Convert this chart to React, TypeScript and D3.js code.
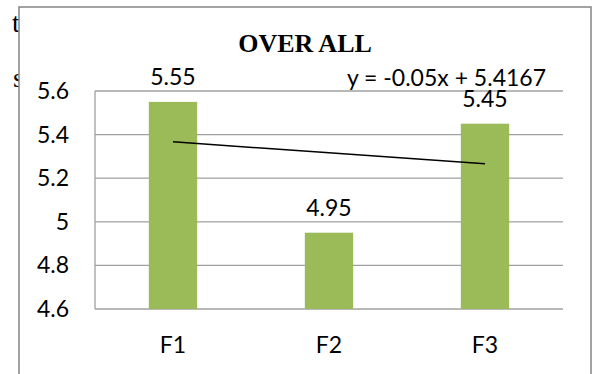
import React from "react";
import * as d3 from "d3";

const categories = ["F1", "F2", "F3"];
const values = [5.55, 4.95, 5.45];
const yTicks = [4.6, 4.8, 5, 5.2, 5.4, 5.6];
const trendSlope = -0.05;
const trendIntercept = 5.4167;
const titleText = "OVER ALL";
const equationText = "y = -0.05x + 5.4167";

const W = 593;
const H = 374;
const plot = { left: 95, right: 563, top: 91, bottom: 309 };
const font = "Lato, 'Open Sans', sans-serif";
const barColor = "#9BBB59";
const gridColor = "#A0A0A0";

export default function App() {
  const x = d3
    .scaleBand<string>()
    .domain(categories)
    .range([plot.left, plot.right])
    .paddingInner(0.69)
    .paddingOuter(0.345);
  const y = d3.scaleLinear().domain([4.6, 5.6]).range([plot.bottom, plot.top]);
  const cx = (c: string) => (x(c) as number) + x.bandwidth() / 2;

  const trendPts: [number, number][] = categories.map((c, i) => [
    cx(c),
    y(trendSlope * (i + 1) + trendIntercept),
  ]);
  const line = d3.line();

  return (
    <svg
      width={W}
      height={H}
      style={{ position: "absolute", left: 0, top: 0, background: "#fff" }}
    >
      {/* underlying document text, mostly hidden by the chart frame */}
      <text x={12} y={32} fontFamily="'Liberation Serif', serif" fontSize={28} fill="#000">
        t
      </text>
      <text x={13} y={87} fontFamily="'Liberation Serif', serif" fontSize={28} fill="#000">
        s
      </text>
      <rect x={19} y={7} width={572} height={400} fill="#fff" stroke="#8C8C8C" strokeWidth={1.6} />

      <text
        x={305}
        y={51.5}
        textAnchor="middle"
        fontFamily="'Liberation Serif', 'Times New Roman', serif"
        fontWeight="bold"
        fontSize={26}
        fill="#000"
      >
        {titleText}
      </text>

      {yTicks.map((t) => (
        <g key={t}>
          <line x1={plot.left} x2={plot.right} y1={y(t)} y2={y(t)} stroke={gridColor} strokeWidth={1.3} />
          <text
            x={69}
            y={y(t)}
            dy="0.35em"
            textAnchor="end"
            fontFamily={font}
            fontSize={23}
            fill="#000"
          >
            {String(t)}
          </text>
        </g>
      ))}
      <line x1={plot.left} x2={plot.left} y1={plot.top} y2={plot.bottom} stroke={gridColor} strokeWidth={1.3} />

      {categories.map((c, i) => (
        <g key={c}>
          <rect
            x={x(c)}
            y={y(values[i])}
            width={x.bandwidth()}
            height={plot.bottom - y(values[i])}
            fill={barColor}
          />
          <text
            x={cx(c)}
            y={y(values[i]) - 17}
            textAnchor="middle"
            fontFamily={font}
            fontSize={23}
            fill="#000"
          >
            {values[i].toFixed(2)}
          </text>
          <text x={cx(c)} y={353} textAnchor="middle" fontFamily={font} fontSize={23} fill="#000">
            {c}
          </text>
        </g>
      ))}

      <path d={line(trendPts) || ""} stroke="#000" strokeWidth={1.5} fill="none" />
      <text x={546} y={86} textAnchor="end" fontFamily={font} fontSize={23} fill="#000">
        {equationText}
      </text>
    </svg>
  );
}
